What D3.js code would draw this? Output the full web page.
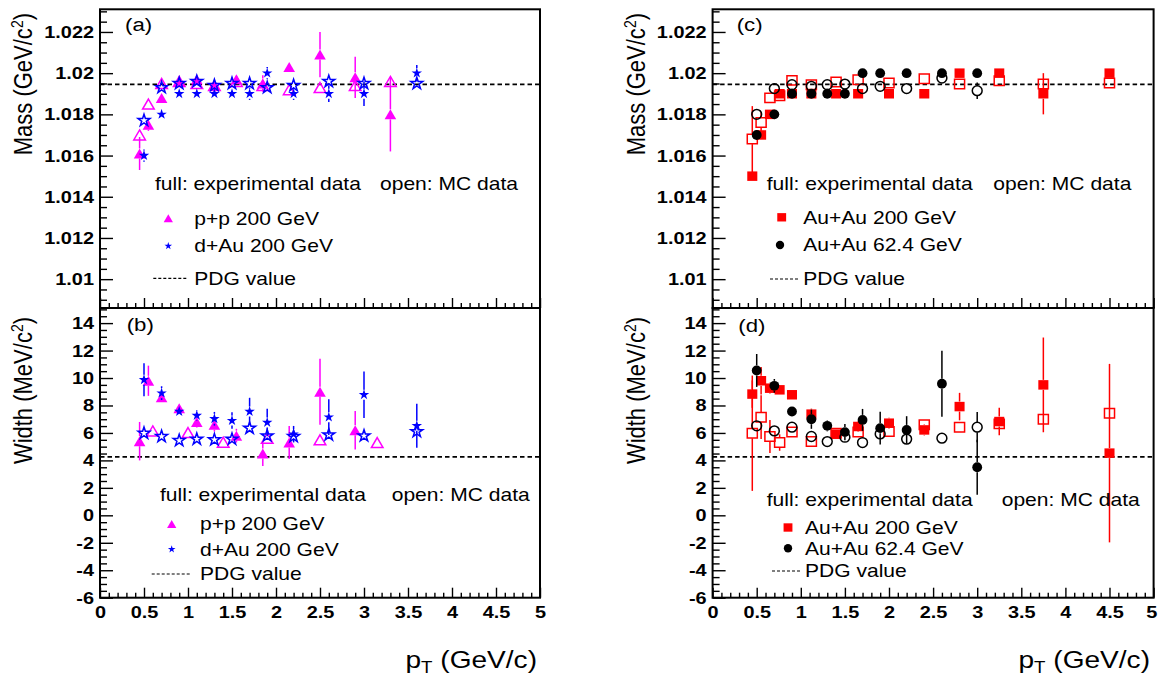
<!DOCTYPE html>
<html><head><meta charset="utf-8">
<script src="https://cdn.jsdelivr.net/npm/d3@7"></script>
<style>html,body{margin:0;padding:0;background:#fff;} svg{display:block;}</style>
</head><body>
<svg id="c" width="1158" height="677"></svg>
<script>
// ---------------- DATA ----------------
const ptTicks = [0, 0.5, 1, 1.5, 2, 2.5, 3, 3.5, 4, 4.5, 5];
const massTicks = [1.01, 1.012, 1.014, 1.016, 1.018, 1.02, 1.022];
const widthTicks = [-6, -4, -2, 0, 2, 4, 6, 8, 10, 12, 14];
const pdgMass = 1.019455;
const pdgWidth = 4.26;

// panel (a)/(b): p+p 200 GeV
const ppPt = [0.45, 0.55, 0.70, 0.90, 1.10, 1.30, 1.55, 1.85, 2.15, 2.50, 2.90, 3.30];
const ppMassExp = [1.0161, 1.0175, 1.0188, 1.0196, 1.0197, 1.0194, 1.0197, 1.0195, 1.0203, 1.0209, 1.0198, 1.0180];
const ppMassExpErr = [0.0008, 0.0003, 0.0002, 0.0002, 0.0002, 0.0002, 0.0002, 0.0004, 0.0002, 0.0011, 0.0010, 0.0018];
const ppMassMC = [1.0170, 1.0185, 1.0195, 1.0196, 1.0195, 1.0194, 1.0196, 1.0194, 1.0192, 1.0193, 1.0194, 1.0196];
const ppWidthPt = [0.45, 0.55, 0.70, 0.90, 1.10, 1.30, 1.55, 1.85, 2.15, 2.50, 2.90];
const ppWidthExp = [5.4, 9.8, 8.6, 7.8, 6.8, 6.6, 5.8, 4.5, 5.3, 9.0, 6.2];
const ppWidthExpErr = [1.4, 1.1, 0.3, 0.2, 0.4, 0.5, 0.5, 0.9, 1.2, 2.4, 1.4];
const ppWidthMCPt = [0.60, 1.00, 1.40, 1.90, 2.50, 3.15];
const ppWidthMC = [6.15, 6.03, 5.33, 5.62, 5.50, 5.30];

// panel (a)/(b): d+Au 200 GeV
const dAuPt = [0.50, 0.70, 0.90, 1.10, 1.30, 1.50, 1.70, 1.90, 2.20, 2.60, 3.00, 3.60];
const dAuMassExp = [1.0160, 1.0180, 1.0190, 1.0190, 1.0190, 1.0190, 1.0190, 1.0200, 1.0190, 1.0190, 1.0190, 1.0200];
const dAuMassExpErr = [0.0003, 0.0001, 0.0001, 0.0001, 0.0001, 0.0001, 0.0003, 0.0003, 0.0003, 0.0004, 0.0006, 0.0004];
const dAuMassMC = [1.0177, 1.0193, 1.0195, 1.0196, 1.0194, 1.0195, 1.0195, 1.0193, 1.0194, 1.0196, 1.0195, 1.0195];
const dAuWidthExp = [9.87, 8.9, 7.56, 7.27, 7.03, 6.9, 7.56, 6.76, 5.91, 7.15, 8.78, 6.52];
const dAuWidthExpErr = [1.2, 0.5, 0.3, 0.4, 0.5, 0.6, 1.0, 1.0, 0.6, 1.3, 1.7, 1.6];
const dAuWidthMC = [5.98, 5.74, 5.45, 5.55, 5.50, 5.55, 6.35, 5.79, 5.74, 5.86, 5.79, 6.10];

// panel (c)/(d): Au+Au 200 GeV
const auau200Pt = [0.45, 0.55, 0.65, 0.76, 0.90, 1.12, 1.40, 1.65, 2.00, 2.40, 2.80, 3.25, 3.75, 4.50];
const auau200MassExp = [1.0150, 1.0170, 1.0180, 1.0190, 1.0190, 1.0190, 1.0190, 1.0190, 1.0190, 1.0190, 1.0200, 1.0200, 1.0190, 1.0200];
const auau200MassExpErr = [0.0002, 0.0002, 0.0002, 0.0002, 0.0001, 0.0001, 0.0001, 0.0001, 0.0001, 0.0001, 0.0001, 0.0001, 0.0010, 0.0001];
const auau200MassMC = [1.0168, 1.0176, 1.0188, 1.0189, 1.01965, 1.01944, 1.01957, 1.01968, 1.01952, 1.01973, 1.01947, 1.01963, 1.01947, 1.01952];
const auau200MassMCErr = [0.0016, 0.0005, 0.0002, 0, 0, 0, 0, 0, 0, 0, 0, 0, 0, 0];
const auau200WidthExp = [8.83, 9.80, 9.26, 9.14, 8.78, 7.37, 5.91, 6.47, 6.71, 6.22, 7.92, 6.83, 9.50, 4.53];
const auau200WidthExpErr = [1.0, 1.0, 0.4, 0.3, 0.3, 0.4, 0.3, 0.4, 0.4, 0.4, 1.0, 1.0, 3.45, 6.5];
const auau200WidthMC = [5.98, 7.15, 5.74, 5.30, 6.06, 5.37, 5.98, 6.06, 6.10, 6.59, 6.42, 6.66, 7.00, 7.44];
const auau200WidthMCErr = [4.2, 1.6, 1.2, 0.6, 0, 0, 0, 0, 0, 0, 0, 0, 0, 0];

// panel (c)/(d): Au+Au 62.4 GeV
const auau62Pt = [0.50, 0.70, 0.90, 1.12, 1.30, 1.50, 1.70, 1.90, 2.20, 2.60, 3.00];
const auau62MassExp = [1.0170, 1.0180, 1.0190, 1.0190, 1.0190, 1.0190, 1.0200, 1.0200, 1.0200, 1.0200, 1.0200];
const auau62MassMC = [1.0180, 1.01925, 1.01944, 1.01936, 1.01944, 1.01947, 1.01925, 1.01936, 1.01925, 1.01976, 1.01915];
const auau62MassMCErr = [0, 0, 0, 0, 0, 0, 0, 0, 0, 0, 0.0004];
const auau62WidthExp = [10.55, 9.43, 7.56, 7.00, 6.52, 6.06, 6.95, 6.35, 6.22, 9.58, 3.50];
const auau62WidthExpErr = [1.2, 0.5, 0.3, 0.7, 0.4, 0.6, 0.8, 1.2, 1.0, 2.4, 2.0];
const auau62WidthMC = [6.52, 6.15, 6.42, 5.74, 5.37, 5.69, 5.30, 5.93, 5.55, 5.62, 6.42];
const auau62WidthMCErr = [0, 0, 0, 0, 0, 0, 0, 0, 0, 0, 1.1];

// ---------------- DRAWING ----------------
const S = 1.17;   // horizontal text stretch
const FONT = "'Liberation Sans', Arial, Helvetica, sans-serif";
const svg = d3.select("#c");

const symTri = { draw(ctx, size) { const h = Math.sqrt(size), w = h * 0.58; ctx.moveTo(0, -h / 2); ctx.lineTo(w, h / 2); ctx.lineTo(-w, h / 2); ctx.closePath(); } };
const symSq = { draw(ctx, size) { const h = Math.sqrt(size); ctx.rect(-h * 0.53, -h / 2, h * 1.06, h); } };

const MAG = "#ff00ff", BLUE = "#0000ff", RED = "#ff0000", BLK = "#000000";

function txt(g, x, y, str, size, opts = {}) {
  const t = g.append("text")
    .attr("transform", `translate(${x},${y}) scale(${S},1)` + (opts.rotate ? " rotate(-90)" : ""))
    .attr("font-family", FONT).attr("font-size", size)
    .attr("font-weight", opts.bold ? "bold" : "normal")
    .attr("text-anchor", opts.anchor || "start")
    .attr("dominant-baseline", opts.baseline || "auto")
    .attr("fill", "#000");
  if (str !== null) t.text(str);
  return t;
}

function drawSeries(g, x, y, pts, vals, errs, color, type, size, open, gap) {
  const data = pts.map((p, i) => ({ p, v: vals[i], e: errs ? errs[i] : 0 }));
  const eg = g.append("g").attr("stroke", color).attr("stroke-width", 1.5);
  data.forEach(d => {
    if (!d.e) return;
    const yc = y(d.v), y1 = y(d.v + d.e), y2 = y(d.v - d.e), xp = x(d.p);
    if (yc - y1 > gap) eg.append("line").attr("x1", xp).attr("x2", xp).attr("y1", y1).attr("y2", yc - gap);
    if (y2 - yc > gap) eg.append("line").attr("x1", xp).attr("x2", xp).attr("y1", yc + gap).attr("y2", y2);
  });
  g.append("g").selectAll("path").data(data).join("path")
    .attr("d", d3.symbol(type, size)())
    .attr("transform", d => `translate(${x(d.p)},${y(d.v)})`)
    .attr("fill", open ? "none" : color)
    .attr("stroke", open ? color : "none")
    .attr("stroke-width", open ? 1.5 : 0);
}

function axes(g, x, y, yTicks, yMinor, yFmt, x0, x1, y0, y1, showXLabels) {
  const ya = g.append("g").attr("transform", `translate(${x0},0)`)
    .call(d3.axisLeft(y).tickValues(yTicks).tickSizeInner(-13).tickSizeOuter(0).tickPadding(6).tickFormat(yFmt));
  ya.select(".domain").remove();
  ya.selectAll(".tick line").attr("stroke", "#000").attr("stroke-width", 1.4);
  ya.selectAll(".tick text").attr("font-family", FONT).attr("font-size", 17).attr("font-weight", "bold")
    .attr("fill", "#000").attr("x", -6 / S).attr("transform", `scale(${S},1)`);
  const ym = g.append("g").attr("transform", `translate(${x0},0)`)
    .call(d3.axisLeft(y).tickValues(yMinor).tickSize(-7).tickFormat(""));
  ym.select(".domain").remove();
  ym.selectAll(".tick line").attr("stroke", "#000").attr("stroke-width", 1.4);
  const xa = g.append("g").attr("transform", `translate(0,${y1})`)
    .call(d3.axisBottom(x).tickValues(ptTicks).tickSizeInner(-10).tickSizeOuter(0).tickPadding(8)
      .tickFormat(showXLabels ? (d => String(d)) : ""));
  xa.select(".domain").remove();
  xa.selectAll(".tick line").attr("stroke", "#000").attr("stroke-width", 1.4);
  xa.selectAll(".tick text").attr("font-family", FONT).attr("font-size", 17).attr("font-weight", "bold")
    .attr("fill", "#000").attr("transform", `scale(${S},1)`)
    .attr("x", d => (d === 5 && x1 > 1100) ? -2 : 0);
  const xMinor = d3.range(0, 51).filter(k => k % 5 !== 0).map(k => k / 10);
  const xm = g.append("g").attr("transform", `translate(0,${y1})`)
    .call(d3.axisBottom(x).tickValues(xMinor).tickSize(-5).tickFormat(""));
  xm.select(".domain").remove();
  xm.selectAll(".tick line").attr("stroke", "#000").attr("stroke-width", 1.4);
  g.append("rect").attr("x", x0).attr("y", y0).attr("width", x1 - x0).attr("height", y1 - y0)
    .attr("fill", "none").attr("stroke", "#000").attr("stroke-width", 2);
}

function pdgLine(g, y, v, x0, x1) {
  g.append("line").attr("x1", x0).attr("x2", x1).attr("y1", y(v)).attr("y2", y(v))
    .attr("stroke", "#000").attr("stroke-width", 1.8).attr("stroke-dasharray", "4.5,3");
}
function legendDash(g, xa, xb, yy) {
  g.append("line").attr("x1", xa).attr("x2", xb).attr("y1", yy).attr("y2", yy)
    .attr("stroke", "#000").attr("stroke-width", 1.2).attr("stroke-dasharray", "3,2");
}
function legendMarker(g, xx, yy, type, size, color) {
  g.append("path").attr("d", d3.symbol(type, size)()).attr("transform", `translate(${xx},${yy})`).attr("fill", color);
}

const TOP = [9.3, 308], BOT = [308, 597.7];
const LX = [100, 540], RX = [712.6, 1153.6];
const xL = d3.scaleLinear().domain([0, 5]).range(LX);
const xR = d3.scaleLinear().domain([0, 5]).range(RX);
const yMass = d3.scaleLinear().domain([1.0086, 1.0231]).range([TOP[1], TOP[0]]);
const yWid = d3.scaleLinear().domain([-6, 15.1]).range([BOT[1], BOT[0]]);

const massMinor = d3.range(2018, 2047).filter(k => k % 4 !== 0).map(k => k * 0.0005);
const widthMinor = d3.range(-12, 31).filter(k => k % 4 !== 0).map(k => k * 0.5);
const massFmt = d => String(+d.toFixed(4));
const widFmt = d => String(d);

const gA = svg.append("g"), gB = svg.append("g"), gC = svg.append("g"), gD = svg.append("g");
const STAR_OPEN = 44, STAR_FULL = 34;

// ---- panel (a)
axes(gA, xL, yMass, massTicks, massMinor, massFmt, LX[0], LX[1], TOP[0], TOP[1], false);
pdgLine(gA, yMass, pdgMass, LX[0], LX[1]);
drawSeries(gA, xL, yMass, ppPt, ppMassMC, null, MAG, symTri, 100, true, 5);
drawSeries(gA, xL, yMass, ppPt, ppMassExp, ppMassExpErr, MAG, symTri, 100, false, 5);
drawSeries(gA, xL, yMass, dAuPt, dAuMassMC, null, BLUE, d3.symbolStar, STAR_OPEN, true, 5);
drawSeries(gA, xL, yMass, dAuPt, dAuMassExp, dAuMassExpErr, BLUE, d3.symbolStar, STAR_FULL, false, 5);
txt(gA, 125, 31, "(a)", 19);
txt(gA, 155, 184, "full: experimental data", 18, { baseline: "central" });
txt(gA, 380, 184, "open: MC data", 18, { baseline: "central" });
legendMarker(gA, 168.3, 218.3, symTri, 64, MAG);
txt(gA, 194.3, 218.3, "p+p 200 GeV", 18, { baseline: "central" });
legendMarker(gA, 168.3, 246, d3.symbolStar, 18, BLUE);
txt(gA, 194.3, 246, "d+Au 200 GeV", 18, { baseline: "central" });
legendDash(gA, 153.3, 188.3, 278.3);
txt(gA, 194.3, 278.3, "PDG value", 18, { baseline: "central" });

// ---- panel (b)
axes(gB, xL, yWid, widthTicks, widthMinor, widFmt, LX[0], LX[1], BOT[0], BOT[1], true);
pdgLine(gB, yWid, pdgWidth, LX[0], LX[1]);
drawSeries(gB, xL, yWid, ppWidthMCPt, ppWidthMC, null, MAG, symTri, 100, true, 5);
drawSeries(gB, xL, yWid, ppWidthPt, ppWidthExp, ppWidthExpErr, MAG, symTri, 100, false, 5);
drawSeries(gB, xL, yWid, dAuPt, dAuWidthMC, null, BLUE, d3.symbolStar, STAR_OPEN, true, 5);
drawSeries(gB, xL, yWid, dAuPt, dAuWidthExp, dAuWidthExpErr, BLUE, d3.symbolStar, STAR_FULL, false, 5);
txt(gB, 126.7, 331, "(b)", 19);
txt(gB, 160, 495, "full: experimental data", 18, { baseline: "central" });
txt(gB, 391.7, 495, "open: MC data", 18, { baseline: "central" });
legendMarker(gB, 171.7, 524, symTri, 64, MAG);
txt(gB, 200, 524, "p+p 200 GeV", 18, { baseline: "central" });
legendMarker(gB, 171.7, 549.3, d3.symbolStar, 18, BLUE);
txt(gB, 200, 549.3, "d+Au 200 GeV", 18, { baseline: "central" });
legendDash(gB, 151.7, 190, 574);
txt(gB, 200, 574, "PDG value", 18, { baseline: "central" });

// ---- panel (c)
axes(gC, xR, yMass, massTicks, massMinor, massFmt, RX[0], RX[1], TOP[0], TOP[1], false);
pdgLine(gC, yMass, pdgMass, RX[0], RX[1]);
drawSeries(gC, xR, yMass, auau200Pt, auau200MassExp, auau200MassExpErr, RED, symSq, 90, false, 5);
drawSeries(gC, xR, yMass, auau200Pt, auau200MassMC, auau200MassMCErr, RED, symSq, 90, true, 5);
drawSeries(gC, xR, yMass, auau62Pt, auau62MassExp, null, BLK, d3.symbolCircle, 76, false, 5);
drawSeries(gC, xR, yMass, auau62Pt, auau62MassMC, auau62MassMCErr, BLK, d3.symbolCircle, 76, true, 5);
txt(gC, 736.7, 31, "(c)", 19);
txt(gC, 766.7, 183.3, "full: experimental data", 18, { baseline: "central" });
txt(gC, 993.3, 183.3, "open: MC data", 18, { baseline: "central" });
legendMarker(gC, 781.7, 217.3, symSq, 70, RED);
txt(gC, 803.3, 217.3, "Au+Au 200 GeV", 18, { baseline: "central" });
legendMarker(gC, 780, 245, d3.symbolCircle, 55, BLK);
txt(gC, 803.3, 245, "Au+Au 62.4 GeV", 18, { baseline: "central" });
legendDash(gC, 770, 798.3, 279);
txt(gC, 803.3, 279, "PDG value", 18, { baseline: "central" });

// ---- panel (d)
axes(gD, xR, yWid, widthTicks, widthMinor, widFmt, RX[0], RX[1], BOT[0], BOT[1], true);
pdgLine(gD, yWid, pdgWidth, RX[0], RX[1]);
drawSeries(gD, xR, yWid, auau200Pt, auau200WidthExp, auau200WidthExpErr, RED, symSq, 90, false, 5);
drawSeries(gD, xR, yWid, auau200Pt, auau200WidthMC, auau200WidthMCErr, RED, symSq, 90, true, 5);
drawSeries(gD, xR, yWid, auau62Pt, auau62WidthExp, auau62WidthExpErr, BLK, d3.symbolCircle, 76, false, 5);
drawSeries(gD, xR, yWid, auau62Pt, auau62WidthMC, auau62WidthMCErr, BLK, d3.symbolCircle, 76, true, 5);
txt(gD, 738.3, 332, "(d)", 19);
txt(gD, 766.7, 499.5, "full: experimental data", 18, { baseline: "central" });
txt(gD, 1001.7, 499.5, "open: MC data", 18, { baseline: "central" });
legendMarker(gD, 788, 527.5, symSq, 70, RED);
txt(gD, 805, 527.5, "Au+Au 200 GeV", 18, { baseline: "central" });
legendMarker(gD, 788, 548.3, d3.symbolCircle, 55, BLK);
txt(gD, 805, 548.3, "Au+Au 62.4 GeV", 18, { baseline: "central" });
legendDash(gD, 772, 800, 571);
txt(gD, 805, 571, "PDG value", 18, { baseline: "central" });

// ---- axis titles
function yTitle(xx, yy, main) {
  const t = txt(svg, xx, yy, null, 22, { rotate: true, anchor: "end" });
  t.append("tspan").text(main);
  t.append("tspan").attr("font-size", 14).attr("dy", -8).text("2");
  t.append("tspan").attr("dy", 8).text(")");
}
yTitle(32, 13, "Mass (GeV/c");
yTitle(32, 317, "Width (MeV/c");
yTitle(645, 13, "Mass (GeV/c");
yTitle(645, 317, "Width (MeV/c");

function xTitle(xx, yy) {
  const t = txt(svg, xx, yy, null, 24, { anchor: "end" });
  t.append("tspan").text("p");
  t.append("tspan").attr("font-size", 16).attr("dy", 5).text("T");
  t.append("tspan").attr("dy", -5).text(" (GeV/c)");
}
xTitle(537, 668);
xTitle(1150, 668);
</script>
</body></html>
